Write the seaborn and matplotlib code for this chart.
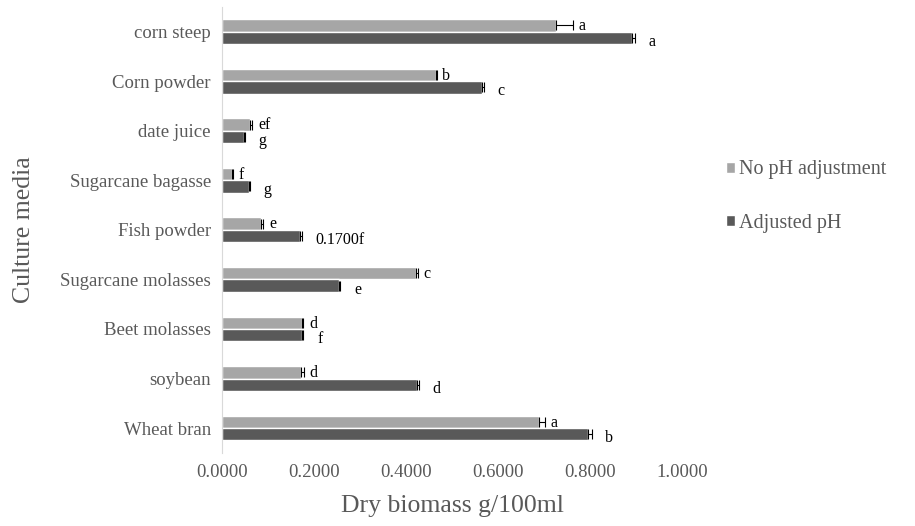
import numpy as np
import pandas as pd
import matplotlib
matplotlib.use('Agg')
import matplotlib.pyplot as plt
import seaborn as sns

# 資料
media = ['corn steep', 'Corn powder', 'date juice', 'Sugarcane bagasse', 'Fish powder',
         'Sugarcane molasses', 'Beet molasses', 'soybean', 'Wheat bran']
no_ph = [0.726, 0.465, 0.061, 0.022, 0.085, 0.422, 0.174, 0.172, 0.689]
no_ph_err = [0.037, 0.002, 0.005, 0.002, 0.005, 0.004, 0.003, 0.006, 0.013]
adj_ph = [0.891, 0.565, 0.048, 0.059, 0.170, 0.255, 0.174, 0.424, 0.795]
adj_ph_err = [0.006, 0.004, 0.002, 0.002, 0.004, 0.002, 0.003, 0.004, 0.008]
no_ph_letters = ['a', 'b', 'ef', 'f', 'e', 'c', 'd', 'd', 'a']
adj_ph_letters = ['a', 'c', 'g', 'g', '0.1700f', 'e', 'f', 'd', 'b']
series = ['No pH adjustment', 'Adjusted pH']

df = pd.DataFrame({
    'media': media * 2,
    'value': no_ph + adj_ph,
    'series': [series[0]] * len(media) + [series[1]] * len(media),
})

sns.set_style('white')
plt.rcParams['font.family'] = ['Liberation Serif', 'DejaVu Serif']
txt = '#595959'

fig = plt.figure(figsize=(9.15, 5.26), dpi=100)
ax = fig.add_axes([0.2426, 0.139, 0.503, 0.848])

sns.barplot(data=df, x='value', y='media', hue='series', order=media, hue_order=series,
            palette=['#A6A6A6', '#595959'], width=0.5, orient='h', ax=ax, legend=True)

# 誤差線 (只畫正方向)
pos = np.arange(len(media))
off = 0.125
for vals, errs, dy in [(no_ph, no_ph_err, -off), (adj_ph, adj_ph_err, off)]:
    ax.errorbar(vals, pos + dy, xerr=[np.zeros(len(vals)), errs], fmt='none',
                ecolor='black', elinewidth=0.8, capsize=3.5, capthick=0.8)

# 顯著性字母
for i in range(len(media)):
    ax.text(no_ph[i] + no_ph_err[i] + 0.012, pos[i] - 0.11, no_ph_letters[i],
            fontsize=11.5, color='black', ha='left', va='center')
    ax.text(adj_ph[i] + adj_ph_err[i] + 0.03, pos[i] + off + 0.08, adj_ph_letters[i],
            fontsize=11.5, color='black', ha='left', va='center')

ax.set_xlim(0, 1.0)
ax.set_ylim(len(media) - 0.5, -0.5)
ax.set_xticks([0, 0.2, 0.4, 0.6, 0.8, 1.0])
ax.set_xticklabels(['%.4f' % t for t in [0, 0.2, 0.4, 0.6, 0.8, 1.0]])
ax.tick_params(axis='both', length=0, labelsize=13.5, labelcolor=txt, pad=8)
ax.set_xlabel('Dry biomass g/100ml', fontsize=18.5, color=txt, labelpad=10)
ax.set_ylabel('Culture media', fontsize=18.5, color=txt, labelpad=18)

for s in ['top', 'right', 'bottom']:
    ax.spines[s].set_visible(False)
ax.spines['left'].set_color('#D9D9D9')

handles, labels = ax.get_legend_handles_labels()
ax.legend(handles, labels, loc='center left', bbox_to_anchor=(1.055, 0.575), frameon=False,
          fontsize=14.5, labelcolor=txt, handlelength=0.45, handleheight=0.45,
          handletextpad=0.2, labelspacing=1.7)

fig.savefig('out.png', dpi=100)
